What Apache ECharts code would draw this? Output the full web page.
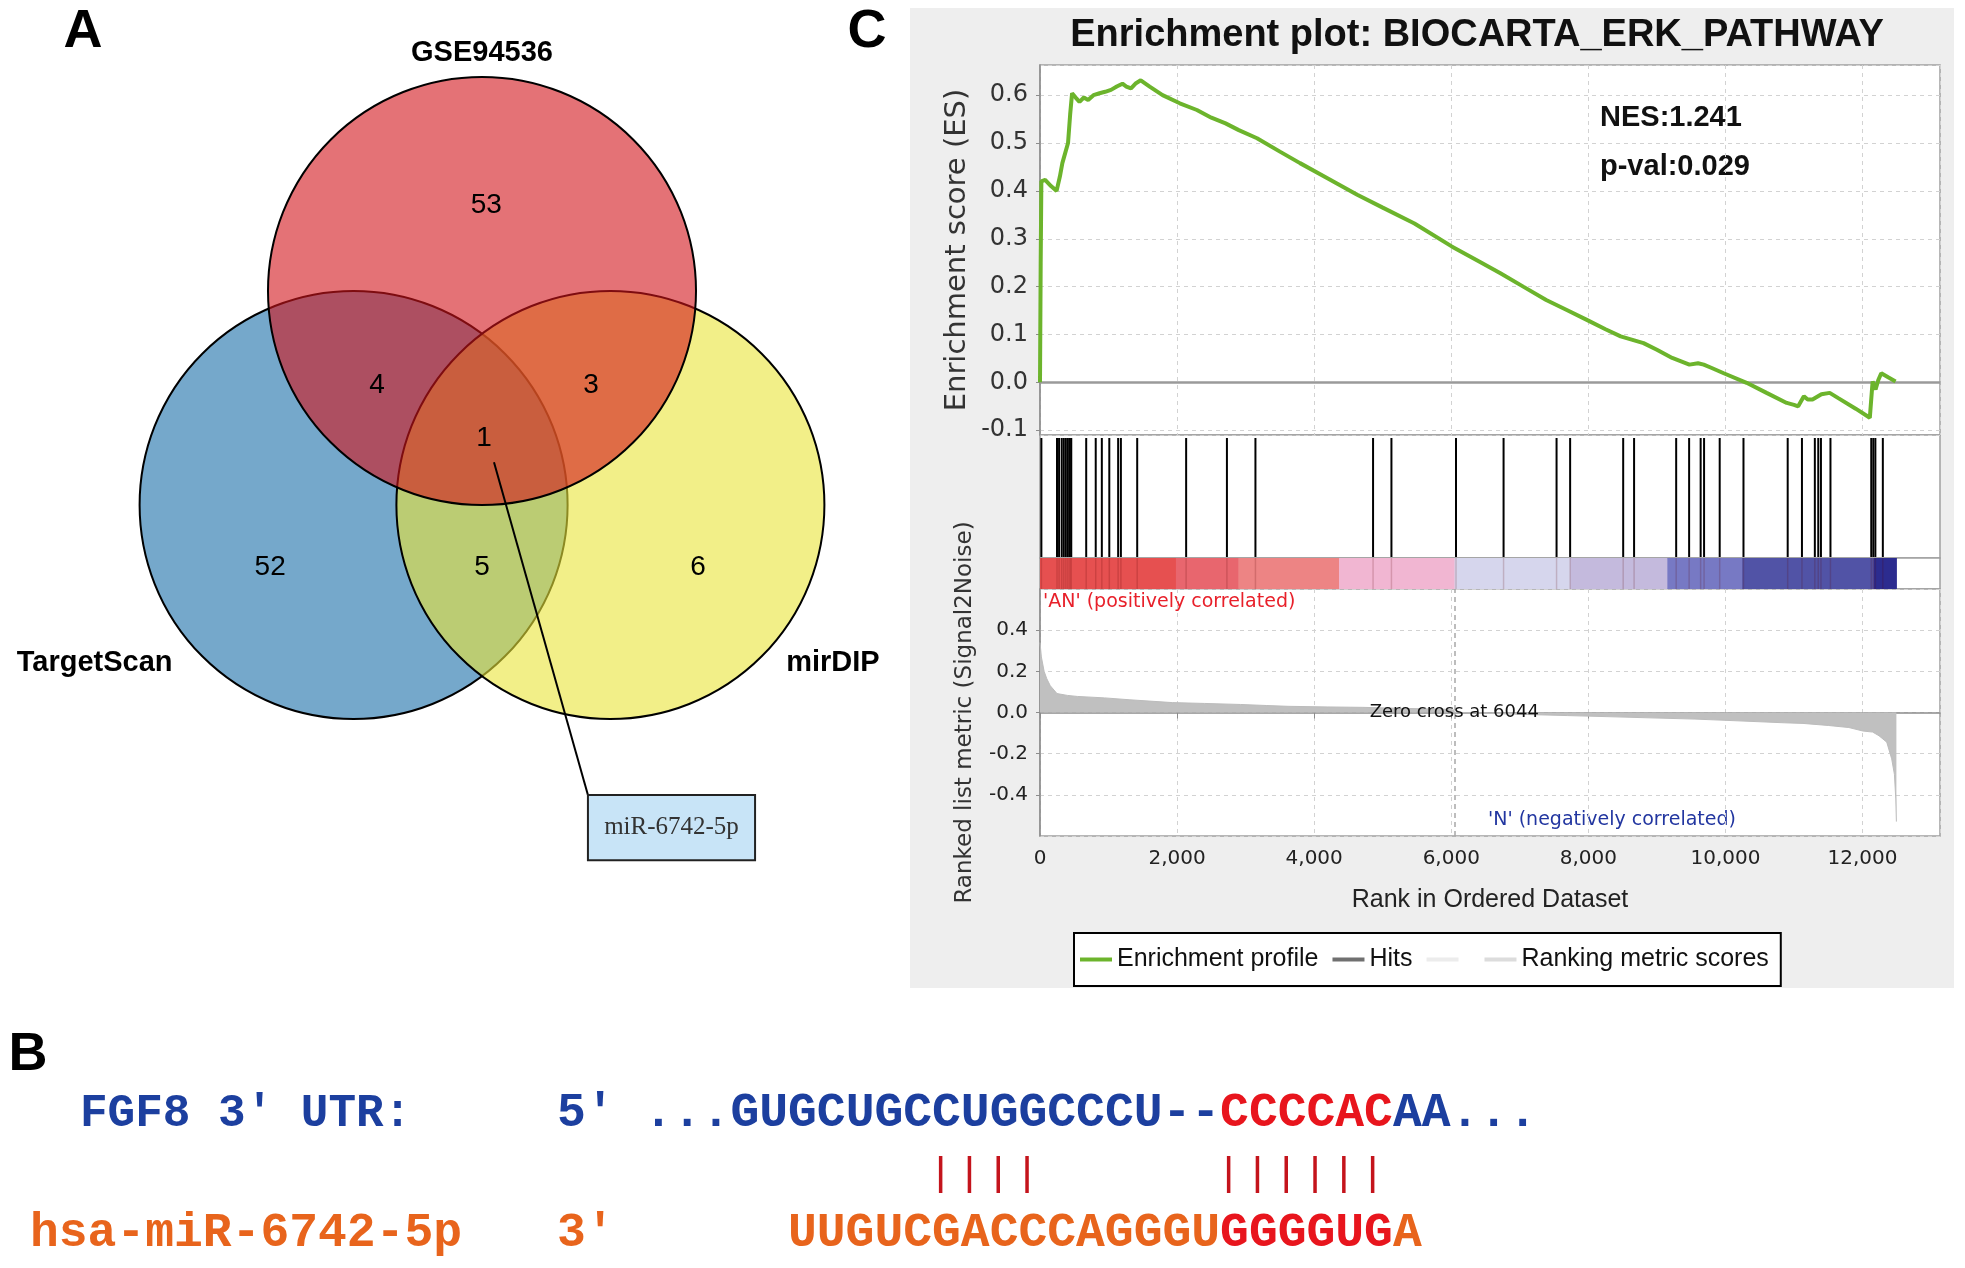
<!DOCTYPE html>
<html>
<head>
<meta charset="utf-8">
<script src="https://cdn.jsdelivr.net/npm/echarts@6/dist/echarts.min.js"></script>
<style>
html,body{margin:0;padding:0;background:#ffffff;}
#main{width:1965px;height:1268px;}
</style>
</head>
<body>
<div id="main"></div>
<script>
// ===================== DATA =====================
// Panel A : Venn diagram
const vennSets = ['GSE94536', 'TargetScan', 'mirDIP'];
// order: GSE only, TargetScan only, mirDIP only, GSE&TS, GSE&mirDIP, TS&mirDIP, all three
const vennRegionCounts = [53, 52, 6, 4, 3, 5, 1];
const vennSharedMiRNA = 'miR-6742-5p';

// Panel C : GSEA enrichment plot
const gseaTitle = 'Enrichment plot: BIOCARTA_ERK_PATHWAY';
const nesText = 'NES:1.241';
const pvalText = 'p-val:0.029';
const zeroCrossRank = 6044;
const esRanks  = [0,10,20,75,160,242,290,326,409,440,468,520,576,640,702,780,869,950,1036,1120,1203,1260,1328,1400,1470,1600,1788,2039,2289,2500,2707,2900,3166,3500,3793,4200,4628,5000,5463,6006,6400,6717,7050,7385,7700,7970,8250,8471,8805,9000,9223,9474,9600,9683,9800,9975,10309,10600,10894,11000,11061,11144,11200,11270,11400,11521,11646,11900,12106,12127,12147,12190,12230,12273,12380,12482];
const esScores = [0,0.25,0.42,0.423,0.41,0.40,0.43,0.458,0.50,0.56,0.604,0.595,0.586,0.595,0.59,0.60,0.604,0.607,0.611,0.618,0.624,0.618,0.614,0.625,0.631,0.618,0.60,0.583,0.569,0.553,0.541,0.527,0.51,0.482,0.458,0.426,0.392,0.365,0.332,0.284,0.253,0.228,0.20,0.172,0.15,0.131,0.111,0.096,0.082,0.068,0.051,0.037,0.04,0.037,0.03,0.019,-0.001,-0.022,-0.043,-0.047,-0.05,-0.029,-0.036,-0.036,-0.025,-0.022,-0.033,-0.055,-0.074,-0.076,0.002,-0.015,0.005,0.019,0.01,0.002];
const hitRanks = [20,248,278,317,347,377,407,436,456,674,813,902,1011,1140,1180,1418,2132,2727,3143,4859,5127,6069,6763,7536,7734,8508,8667,9281,9470,9638,9688,9916,10263,10908,11116,11304,11354,11393,11532,12127,12157,12187,12296];
const metricRanks  = [0,20,60,99,150,248,400,545,942,1300,1934,2400,2925,3300,3619,4200,4710,5300,5900,6040,6044,6500,7239,7700,8258,8900,9555,10000,10503,10857,11131,11500,11800,12006,12147,12240,12353,12425,12465,12485,12494];
const metricValues = [0.34,0.27,0.20,0.164,0.13,0.092,0.083,0.078,0.071,0.062,0.048,0.044,0.039,0.034,0.030,0.027,0.025,0.020,0.016,0.012,0,-0.004,-0.011,-0.015,-0.020,-0.026,-0.032,-0.038,-0.045,-0.050,-0.053,-0.063,-0.073,-0.090,-0.095,-0.113,-0.144,-0.225,-0.30,-0.42,-0.53];
const colorBarEdges = [0,1983,2895,4363,6048,7734,9152,10243,12166,12494];

// Panel B : sequence alignment
const utrLabel = "FGF8 3' UTR:";
const mirLabel = 'hsa-miR-6742-5p';
const utrSeqParts = ['...GUGCUGCCUGGCCCU--', 'CCCCAC', 'AA...'];
const mirSeqParts = ['UUGUCGACCCAGGGU', 'GGGGUG', 'A'];
const pairedColumns = [10, 11, 12, 13, 20, 21, 22, 23, 24, 25];

// ===================== LAYOUT & STYLE =====================
const VENN_CIRCLE_ORDER = [1, 2, 0];              // draw TargetScan, mirDIP, then GSE on top
const VENN_CENTERS = [[0, 0], [-0.6, -1], [0.6, -1]];
const VENN_FILLS = ['rgba(210,20,27,0.6)', 'rgba(25,110,168,0.6)', 'rgba(233,228,57,0.6)'];
const VENN_REGION_POS = [[0.02,0.40],[-0.99,-1.29],[1.01,-1.29],[-0.49,-0.44],[0.51,-0.44],[0,-1.29],[0.01,-0.69]];
const VENN_SET_POS = [[0,1.11],[-1.81,-1.74],[1.64,-1.74]];
const CALLOUT = [0.056,-0.80,0.495,-2.355,1.276,-2.66];
const BAR_COLORS = ['#e65050','#e8666e','#ed8484','#f1b6d2','#d6d6ed','#c4badd','#7779c4','#5153a6','#2c2c8f'];
const GREEN = '#6cb42c';
const SANS = "'Liberation Sans', Arial, sans-serif";
const DEJA = "'DejaVu Sans', sans-serif";
const MONO = "'Liberation Mono', 'Courier New', monospace";
const XMAX = 13130;

function T(x, y, text, font, fill, align, valign, extra) {
  align = align || 'left'; valign = valign || 'middle';
  return Object.assign({
    type: 'text', x: x, y: y, silent: true,
    style: { text: text, font: font, fill: fill, align: align, verticalAlign: valign, textAlign: align, textVerticalAlign: valign }
  }, extra || {});
}

const chart = echarts.init(document.getElementById('main'), null, { renderer: 'canvas' });

const dashed = { show: true, lineStyle: { color: '#d2d2d2', type: [4, 4], width: 1 } };

function xBase(grid) {
  return { type: 'value', gridIndex: grid, min: 0, max: XMAX, interval: 2000,
    axisLine: { show: false }, axisTick: { show: false }, axisLabel: { show: false }, splitLine: { show: false } };
}

const option = {
  animation: false,
  backgroundColor: '#ffffff',
  grid: [
    { left: 54, top: 34.2, width: 856, height: 856, show: false },
    { left: 1040, top: 65, width: 900, height: 370, show: true, backgroundColor: '#fff', borderColor: '#a0a0a0', borderWidth: 1.5 },
    { left: 1040, top: 435, width: 900, height: 123, show: true, backgroundColor: '#fff', borderColor: '#a0a0a0', borderWidth: 1.5 },
    { left: 1040, top: 558, width: 900, height: 31, show: true, backgroundColor: '#fff', borderColor: '#a0a0a0', borderWidth: 1.5 },
    { left: 1040, top: 589, width: 900, height: 247, show: true, backgroundColor: '#fff', borderColor: '#a0a0a0', borderWidth: 1.5 },
    { left: 644, top: 1156, width: 864, height: 37, show: false }
  ],
  xAxis: [
    { type: 'value', gridIndex: 0, min: -2, max: 2, show: false },
    Object.assign(xBase(1), { splitLine: dashed }),
    xBase(2),
    xBase(3),
    Object.assign(xBase(4), {
      splitLine: dashed,
      axisLine: { show: true, lineStyle: { color: '#8c8c8c', width: 1.5 } },
      axisTick: { show: true, length: 6, lineStyle: { color: '#8c8c8c' } },
      axisLabel: { show: true, showMaxLabel: false, margin: 13, fontFamily: DEJA, fontSize: 20, color: '#222',
        formatter: function (v) { return Number(v).toLocaleString('en-US'); } },
      name: 'Rank in Ordered Dataset', nameLocation: 'middle', nameGap: 52,
      nameTextStyle: { fontFamily: SANS, fontSize: 25, color: '#222' }
    }),
    { type: 'value', gridIndex: 5, min: 0, max: 30, show: false }
  ],
  yAxis: [
    { type: 'value', gridIndex: 0, min: -2.8, max: 1.2, show: false },
    { type: 'value', gridIndex: 1, min: -0.11, max: 0.663, splitNumber: 8, minInterval: 0.1, maxInterval: 0.1,
      axisLine: { show: true, lineStyle: { color: '#8c8c8c', width: 1.5 } },
      axisTick: { show: true, length: 4, lineStyle: { color: '#8c8c8c' } },
      splitLine: dashed,
      axisLabel: { showMinLabel: false, showMaxLabel: false, margin: 12, fontFamily: DEJA, fontSize: 24, color: '#333',
        formatter: function (v) { return Number(v).toFixed(1); } },
      name: 'Enrichment score (ES)', nameLocation: 'middle', nameGap: 68, nameRotate: 90,
      nameTextStyle: { fontFamily: DEJA, fontSize: 29, color: '#333' } },
    { type: 'value', gridIndex: 2, min: 0, max: 1, show: false },
    { type: 'value', gridIndex: 3, min: 0, max: 1, show: false },
    { type: 'value', gridIndex: 4, min: -0.6, max: 0.6, interval: 0.2,
      axisLine: { show: true, lineStyle: { color: '#8c8c8c', width: 1.5 } },
      axisTick: { show: true, length: 4, lineStyle: { color: '#8c8c8c' } },
      splitLine: dashed,
      axisLabel: { showMinLabel: false, showMaxLabel: false, margin: 12, fontFamily: DEJA, fontSize: 20, color: '#222',
        formatter: function (v) { return Number(v).toFixed(1); } },
      name: 'Ranked list metric (Signal2Noise)', nameLocation: 'middle', nameGap: 63, nameRotate: 90,
      nameTextStyle: { fontFamily: DEJA, fontSize: 23, color: '#333' } },
    { type: 'value', gridIndex: 5, min: 0, max: 1, show: false }
  ],
  legend: {
    left: 1074, top: 933, orient: 'horizontal', selectedMode: false,
    itemWidth: 32, itemHeight: 4, itemGap: 14,
    borderColor: '#000', borderWidth: 2, padding: [14, 12, 14, 6], backgroundColor: '#fff',
    textStyle: { fontFamily: SANS, fontSize: 25, color: '#111' },
    data: [
      { name: 'Enrichment profile', icon: 'rect', itemStyle: { color: GREEN } },
      { name: 'Hits', icon: 'rect', itemStyle: { color: '#707070' } },
      { name: ' ', icon: 'rect', itemStyle: { color: '#ececec' } },
      { name: 'Ranking metric scores', icon: 'rect', itemStyle: { color: '#dcdcdc' } }
    ]
  },
  graphic: [
    { type: 'rect', z: -100, silent: true, shape: { x: 910, y: 8, width: 1044, height: 980 }, style: { fill: '#eeeeee' } },
    T(83, 32, 'A', "bold 54px " + SANS, '#000', 'center'),
    T(867, 32, 'C', "bold 54px " + SANS, '#000', 'center'),
    T(28, 1055, 'B', "bold 54px " + SANS, '#000', 'center'),
    T(1477, 36, gseaTitle, "bold 38px " + SANS, '#111', 'center'),
    T(1600, 118, nesText, "bold 29px " + SANS, '#111', 'left'),
    T(1600, 167, pvalText, "bold 29px " + SANS, '#111', 'left'),
    T(1043, 602, "'AN' (positively correlated)", "19px " + DEJA, '#e8202a', 'left'),
    T(1488, 820, "'N' (negatively correlated)", "19px " + DEJA, '#2236a0', 'left'),
    T(80, 1114, utrLabel, "bold 46px " + MONO, '#1c3f9f', 'left'),
    T(557, 1114, "5'", "bold 48px " + MONO, '#1c3f9f', 'left'),
    T(30, 1234, mirLabel, "bold 48px " + MONO, '#e8641c', 'left'),
    T(557, 1234, "3'", "bold 48px " + MONO, '#e8641c', 'left'),
    { type: 'text', x: 644, y: 1114, silent: true, style: {
        text: '{b|' + utrSeqParts[0] + '}{r|' + utrSeqParts[1] + '}{b|' + utrSeqParts[2] + '}',
        align: 'left', verticalAlign: 'middle', textAlign: 'left', textVerticalAlign: 'middle',
        rich: {
          b: { fill: '#1c3f9f', fontFamily: MONO, fontSize: 48, fontWeight: 'bold' },
          r: { fill: '#e8151d', fontFamily: MONO, fontSize: 48, fontWeight: 'bold' }
        } } },
    { type: 'text', x: 644 + 5 * 28.8, y: 1234, silent: true, style: {
        text: '{o|' + mirSeqParts[0] + '}{r|' + mirSeqParts[1] + '}{o|' + mirSeqParts[2] + '}',
        align: 'left', verticalAlign: 'middle', textAlign: 'left', textVerticalAlign: 'middle',
        rich: {
          o: { fill: '#e8641c', fontFamily: MONO, fontSize: 48, fontWeight: 'bold' },
          r: { fill: '#e8151d', fontFamily: MONO, fontSize: 48, fontWeight: 'bold' }
        } } }
  ],
  series: [
    { type: 'custom', name: 'venn', xAxisIndex: 0, yAxisIndex: 0, silent: true, z: 2,
      data: VENN_CIRCLE_ORDER.map(function (s) { return [VENN_CENTERS[s][0], VENN_CENTERS[s][1], 1, s]; }),
      renderItem: function (params, api) {
        const c = api.coord([api.value(0), api.value(1)]);
        const sz = api.size([api.value(2), api.value(2)]);
        return { type: 'circle', shape: { cx: c[0], cy: c[1], r: sz[0] },
          style: { fill: VENN_FILLS[api.value(3)], stroke: '#000', lineWidth: 2 } };
      } },
    { type: 'scatter', xAxisIndex: 0, yAxisIndex: 0, silent: true, z: 3, symbolSize: 0,
      itemStyle: { color: '#000', opacity: 1 },
      data: vennRegionCounts.map(function (v, i) { return [VENN_REGION_POS[i][0], VENN_REGION_POS[i][1], v]; }),
      label: { show: true, position: 'inside', opacity: 1, formatter: function (p) { return String(p.value[2]); },
        fontFamily: SANS, fontSize: 28, color: '#000', textBorderWidth: 0 } },
    { type: 'scatter', xAxisIndex: 0, yAxisIndex: 0, silent: true, z: 3, symbolSize: 0,
      itemStyle: { color: '#000', opacity: 1 },
      data: vennSets.map(function (n, i) { return { value: [VENN_SET_POS[i][0], VENN_SET_POS[i][1]], name: n }; }),
      label: { show: true, position: 'inside', opacity: 1, formatter: function (p) { return p.name; },
        fontFamily: SANS, fontSize: 29, fontWeight: 'bold', color: '#000', textBorderWidth: 0 } },
    { type: 'custom', xAxisIndex: 0, yAxisIndex: 0, silent: true, z: 4,
      data: [CALLOUT],
      renderItem: function (params, api) {
        const a = api.coord([api.value(0), api.value(1)]);
        const b0 = api.coord([api.value(2), api.value(3)]);
        const b1 = api.coord([api.value(4), api.value(5)]);
        return { type: 'group', children: [
          { type: 'line', shape: { x1: a[0], y1: a[1], x2: b0[0], y2: b0[1] }, style: { stroke: '#000', lineWidth: 2 } },
          { type: 'rect', shape: { x: b0[0], y: b0[1], width: b1[0] - b0[0], height: b1[1] - b0[1] },
            style: { fill: '#c8e4f7', stroke: '#222', lineWidth: 2 } },
          { type: 'text', x: (b0[0] + b1[0]) / 2, y: (b0[1] + b1[1]) / 2,
            style: { text: vennSharedMiRNA, fontFamily: "'Liberation Serif', serif", fontSize: 25, fill: '#333',
              align: 'center', verticalAlign: 'middle' } }
        ] };
      } },
    { type: 'line', name: 'Enrichment profile', xAxisIndex: 1, yAxisIndex: 1, z: 5,
      data: esRanks.map(function (r, i) { return [r, esScores[i]]; }),
      showSymbol: false, symbol: 'none', color: GREEN,
      lineStyle: { color: GREEN, width: 4 },
      markLine: { silent: true, symbol: ['none', 'none'], label: { show: false },
        lineStyle: { color: '#9a9a9a', width: 2.5, type: 'solid' }, data: [{ yAxis: 0 }] } },
    { type: 'custom', name: 'Hits', xAxisIndex: 2, yAxisIndex: 2, silent: true, itemStyle: { color: '#707070' },
      data: hitRanks.map(function (r) { return [r, 0]; }),
      renderItem: function (params, api) {
        const p0 = api.coord([api.value(0), 0]);
        const p1 = api.coord([api.value(0), 1]);
        return { type: 'line', shape: { x1: p0[0], y1: p0[1] - 1, x2: p1[0], y2: p1[1] + 3 }, style: { stroke: '#000', lineWidth: 2 } };
      } },
    { type: 'line', name: ' ', xAxisIndex: 2, yAxisIndex: 2, data: [], color: '#ececec' },
    { type: 'custom', name: 'bar', xAxisIndex: 3, yAxisIndex: 3, silent: true,
      data: colorBarEdges.slice(0, -1).map(function (e, i) { return [e, colorBarEdges[i + 1], i]; }),
      renderItem: function (params, api) {
        const p0 = api.coord([api.value(0), 1]);
        const p1 = api.coord([api.value(1), 0]);
        return { type: 'rect', shape: { x: p0[0], y: p0[1], width: p1[0] - p0[0] + 0.5, height: p1[1] - p0[1] },
          style: { fill: BAR_COLORS[api.value(2)] } };
      } },
    { type: 'custom', name: 'barHits', xAxisIndex: 3, yAxisIndex: 3, silent: true, z: 3,
      data: hitRanks.map(function (r) { return [r, 0]; }),
      renderItem: function (params, api) {
        const p0 = api.coord([api.value(0), 0]);
        const p1 = api.coord([api.value(0), 1]);
        return { type: 'line', shape: { x1: p0[0], y1: p0[1], x2: p1[0], y2: p1[1] }, style: { stroke: 'rgba(90,0,0,0.18)', lineWidth: 1.5 } };
      } },
    { type: 'line', name: 'Ranking metric scores', xAxisIndex: 4, yAxisIndex: 4, z: 3,
      data: metricRanks.map(function (r, i) { return [r, metricValues[i]]; }),
      showSymbol: false, symbol: 'none', color: '#dcdcdc',
      lineStyle: { color: '#bcbcbc', width: 1 },
      areaStyle: { color: '#c0c0c0', opacity: 1 },
      markLine: { silent: true, symbol: ['none', 'none'], label: { show: false },
        lineStyle: { color: '#a8a8a8', width: 1.5, type: [5, 4] }, data: [{ xAxis: zeroCrossRank }] } },
    { type: 'scatter', xAxisIndex: 4, yAxisIndex: 4, silent: true, z: 6, symbolSize: 0,
      itemStyle: { color: '#000', opacity: 1 },
      data: [[zeroCrossRank, 0]],
      label: { show: true, position: 'inside', opacity: 1, formatter: 'Zero cross at ' + zeroCrossRank,
        fontFamily: DEJA, fontSize: 18, color: '#111', textBorderWidth: 0 } },
    { type: 'custom', xAxisIndex: 5, yAxisIndex: 5, silent: true,
      data: pairedColumns.map(function (c) { return [c, 0]; }),
      renderItem: function (params, api) {
        const p0 = api.coord([api.value(0) + 0.3, 0]);
        const p1 = api.coord([api.value(0) + 0.3, 1]);
        return { type: 'line', shape: { x1: p0[0], y1: p0[1], x2: p1[0], y2: p1[1] }, style: { stroke: '#c4141c', lineWidth: 3.5 } };
      } }
  ]
};
chart.setOption(option);
</script>
</body>
</html>
